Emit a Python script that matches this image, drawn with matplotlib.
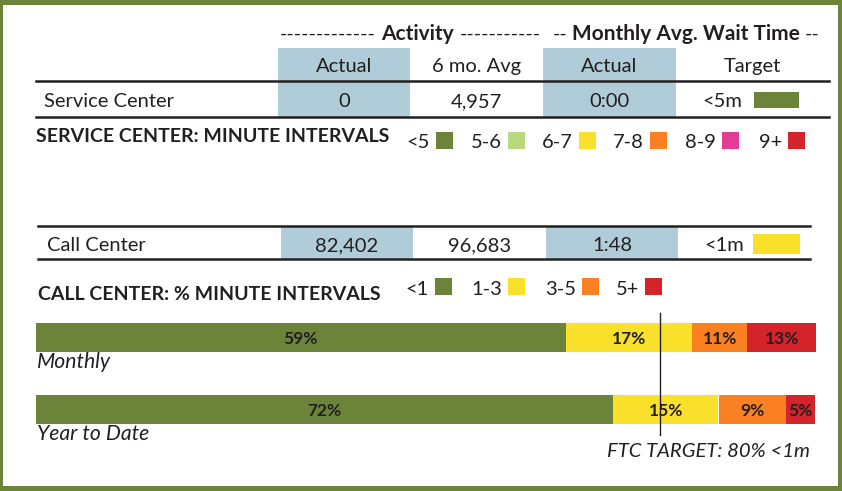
import matplotlib.pyplot as plt
from matplotlib.patches import Rectangle

# ---- data ----
col_headers = ["Actual", "6 mo. Avg", "Actual", "Target"]
service_values = ["0", "4,957", "0:00"]
service_target = "<5m"
call_values = ["82,402", "96,683", "1:48"]
call_target = "<1m"

service_bands = ["<5", "5-6", "6-7", "7-8", "8-9", "9+"]
service_band_colors = ["#6b843a", "#b9d97f", "#f9e02a", "#fb8022", "#e23c97", "#d3232b"]
call_bands = ["<1", "1-3", "3-5", "5+"]
call_band_colors = ["#6b843a", "#f9e02a", "#fb8022", "#d3232b"]

periods = ["Monthly", "Year to Date"]
# printed percentages
pct_labels = [[59, 17, 11, 13], [72, 15, 9, 5]]
# drawn segment widths (% of the bar), as measured on the picture
seg_widths = [[67.9, 16.2, 7.1, 8.8], [74.0, 13.5, 8.7, 3.7]]
ftc_target = 80

INK = "#231f20"
BLUE = "#b0ccd8"
GREEN = "#6b843a"
FONT = "Lato"

W, H = 842, 491
fig = plt.figure(figsize=(W / 100, H / 100), dpi=100)
ax = fig.add_axes([0, 0, 1, 1])
ax.set_xlim(0, W)
ax.set_ylim(H, 0)
ax.axis("off")


def txt(x, y, s, size=14.5, weight="normal", style="normal", ha="left", va="baseline"):
    ax.text(x, y, s, fontsize=size, fontweight=weight, fontstyle=style,
            ha=ha, va=va, color=INK, family=FONT)


def box(x, y, w, h, color):
    ax.add_patch(Rectangle((x, y), w, h, facecolor=color, edgecolor="none"))


# frame
box(0, 0, W, 5, GREEN)
box(0, H - 5, W, 5, GREEN)
box(0, 0, 3, H, GREEN)
box(W - 4, 0, 4, H, GREEN)

# ---- service center table ----
cols = [(278, 410), (410, 543), (543, 676), (676, 829)]
for i in (0, 2):
    box(cols[i][0], 48, cols[i][1] - cols[i][0], 69, BLUE)
ax.plot([36, 829], [81, 81], color=INK, lw=1.8)
ax.plot([36, 829], [117, 117], color=INK, lw=1.8)

# group headers: dashes regular, title bold
txt(376, 40, "-------------", size=14, ha="right")
txt(417, 40, "Activity", size=15, weight="bold", ha="center")
txt(460, 40, "-----------", size=14)
txt(567, 40, "--", size=14, ha="right")
txt(686, 40, "Monthly Avg. Wait Time", size=15, weight="bold", ha="center")
txt(805, 40, "--", size=14)

for (a, b), h in zip(cols, col_headers):
    txt((a + b) / 2, 72, h, ha="center")

txt(44, 107, "Service Center")
for (a, b), v in zip(cols, service_values):
    txt((a + b) / 2, 107, v, ha="center")
txt(702, 107, service_target)
box(754, 92, 45, 16, service_band_colors[0])

txt(36, 142, "SERVICE CENTER: MINUTE INTERVALS", size=14, weight="bold")
sw_x = [436, 508, 579, 650, 722, 788]
for x, lab, c in zip(sw_x, service_bands, service_band_colors):
    box(x, 132, 17, 17, c)
    txt(x - 6, 148, lab, ha="right")

# ---- call center table ----
cols2 = [(281, 413), (413, 546), (546, 678), (678, 810)]
for i in (0, 2):
    box(cols2[i][0], 226, cols2[i][1] - cols2[i][0], 33, BLUE)
ax.plot([38, 810], [226, 226], color=INK, lw=1.8)
ax.plot([38, 810], [259, 259], color=INK, lw=1.8)

txt(47, 251, "Call Center")
for (a, b), v in zip(cols2, call_values):
    txt((a + b) / 2, 251, v, ha="center")
txt(704, 251, call_target)
box(753, 234, 47, 20, call_band_colors[1])

txt(38, 300, "CALL CENTER: % MINUTE INTERVALS", size=14, weight="bold")
sw_x2 = [435, 508, 582, 645]
for x, lab, c in zip(sw_x2, call_bands, call_band_colors):
    box(x, 278, 17, 17, c)
    txt(x - 6, 295, lab, ha="right")

# ---- stacked bars: x in percent, y in pixels ----
bx = fig.add_axes([36 / W, 0, 780 / W, 1])
bx.set_xlim(0, 100)
bx.set_ylim(H, 0)
bx.axis("off")

bar_y = [337.5, 409]
for y, widths, labels in zip(bar_y, seg_widths, pct_labels):
    left = 0
    for w, lab, c in zip(widths, labels, call_band_colors):
        bx.barh(y, w, left=left, height=29, color=c, edgecolor="none")
        bx.text(left + w / 2, y, f"{lab}%", ha="center", va="center_baseline",
                fontsize=12.5, fontweight="bold", color=INK, family=FONT)
        left += w

bx.plot([ftc_target, ftc_target], [313, 435], color=INK, lw=1)

txt(37, 368, periods[0], size=15.2, style="italic")
txt(37, 440, periods[1], size=15.2, style="italic")
txt(810, 457, f"FTC TARGET: {ftc_target}% <1m", size=14.6, style="italic", ha="right")

fig.savefig("out.png", dpi=100)
